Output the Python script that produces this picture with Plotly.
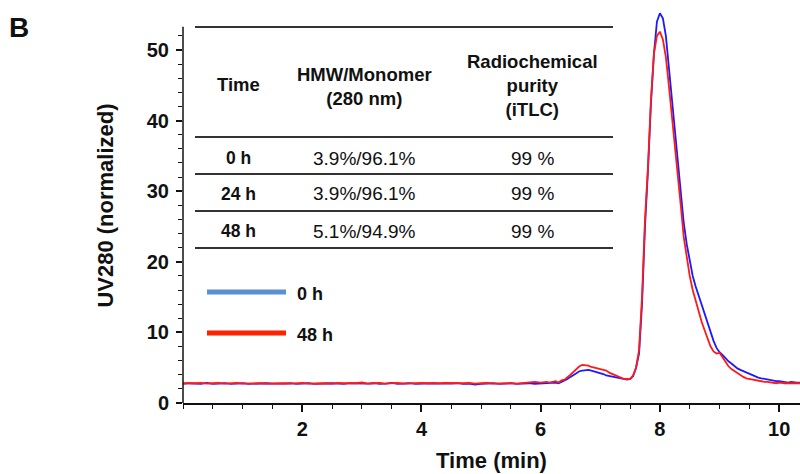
import plotly.graph_objects as go

# ---------------- data ----------------
time_baseline = [0.0, 0.1, 0.2, 0.3, 0.4, 0.5, 0.6, 0.7, 0.8, 0.9,
                 1.0, 1.1, 1.2, 1.3, 1.4, 1.5, 1.6, 1.7, 1.8, 1.9,
                 2.0, 2.1, 2.2, 2.3, 2.4, 2.5, 2.6, 2.7, 2.8, 2.9,
                 3.0, 3.1, 3.2, 3.3, 3.4, 3.5, 3.6, 3.7, 3.8, 3.9,
                 4.0, 4.1, 4.2, 4.3, 4.4, 4.5, 4.6, 4.7, 4.8, 4.9,
                 5.0, 5.1, 5.2, 5.3, 5.4, 5.5, 5.6, 5.7, 5.8, 5.9,
                 6.0, 6.1]
time_peak = [6.15, 6.20, 6.25, 6.30, 6.35, 6.40, 6.45, 6.50, 6.55, 6.60,
             6.65, 6.70, 6.75, 6.80, 6.85, 6.90, 6.95, 7.00, 7.05, 7.10,
             7.15, 7.20, 7.25, 7.30, 7.35, 7.40, 7.45, 7.50, 7.55, 7.60,
             7.65, 7.70, 7.75, 7.80, 7.85, 7.90, 7.95, 8.00, 8.05, 8.10,
             8.15, 8.20, 8.25, 8.30, 8.35, 8.40, 8.45, 8.50, 8.55, 8.60,
             8.65, 8.70, 8.75, 8.80, 8.85, 8.90, 8.95, 9.00, 9.05, 9.10,
             9.15, 9.20, 9.25, 9.30, 9.35, 9.40, 9.45, 9.50, 9.55, 9.60,
             9.65, 9.70, 9.75, 9.80, 9.85, 9.90, 9.95, 10.00, 10.05, 10.10,
             10.15, 10.20, 10.25, 10.30, 10.35]

uv_0h_baseline = [2.7, 2.8, 2.75, 2.7, 2.85, 2.7, 2.75, 2.8, 2.7, 2.75,
                  2.8, 2.7, 2.75, 2.7, 2.8, 2.75, 2.7, 2.75, 2.8, 2.7,
                  2.75, 2.8, 2.7, 2.75, 2.7, 2.8, 2.75, 2.7, 2.8, 2.75,
                  2.7, 2.75, 2.8, 2.7, 2.75, 2.85, 2.7, 2.75, 2.8, 2.7,
                  2.75, 2.7, 2.8, 2.75, 2.7, 2.75, 2.8, 2.7, 2.75, 2.6,
                  2.7, 2.75, 2.8, 2.7, 2.75, 2.8, 2.7, 2.75, 2.8, 2.7,
                  2.75, 2.85]
uv_0h_peak = [2.8, 2.85, 2.9, 2.8, 3.0, 3.1, 3.4, 3.7, 4.0, 4.3,
              4.5, 4.6, 4.7, 4.7, 4.6, 4.5, 4.4, 4.2, 4.1, 3.9,
              3.8, 3.7, 3.6, 3.5, 3.4, 3.3, 3.3, 3.4, 3.8, 5.0,
              7.0, 14.0, 25.0, 33.0, 42.5, 49.5, 54.0, 55.2, 54.5, 52.0,
              47.5, 43.5, 39.0, 34.0, 29.5, 25.5, 22.5, 20.0, 18.0, 16.5,
              15.2, 13.8, 12.6, 11.2, 10.0, 8.8, 7.8, 7.2, 6.8, 6.3,
              5.9, 5.6, 5.2, 4.9, 4.7, 4.5, 4.3, 4.1, 3.9, 3.7,
              3.6, 3.5, 3.4, 3.3, 3.3, 3.2, 3.1, 3.1, 3.0, 3.0,
              2.9, 3.0, 2.9, 2.9, 2.9]

uv_48h_baseline = [2.8, 2.75, 2.8, 2.85, 2.75, 2.8, 2.85, 2.75, 2.8, 2.85,
                   2.75, 2.8, 2.85, 2.8, 2.75, 2.8, 2.85, 2.8, 2.75, 2.8,
                   2.85, 2.75, 2.8, 2.85, 2.8, 2.75, 2.85, 2.8, 2.75, 2.8,
                   2.9, 2.75, 2.8, 2.85, 2.75, 2.8, 2.85, 2.75, 2.8, 2.75,
                   2.85, 2.8, 2.75, 2.8, 2.85, 2.8, 2.75, 2.8, 2.85, 2.75,
                   2.8, 2.85, 2.75, 2.8, 2.85, 2.8, 2.75, 2.8, 2.85, 3.0,
                   2.9, 3.0]
uv_48h_peak = [2.9, 3.0, 3.1, 2.9, 3.2, 3.3, 3.6, 4.0, 4.4, 4.8,
               5.2, 5.4, 5.4, 5.3, 5.1, 5.0, 4.9, 4.8, 4.8, 4.6,
               4.3, 4.1, 3.9, 3.8, 3.6, 3.4, 3.4, 3.4, 3.9, 5.0,
               7.5, 15.0, 26.0, 33.5, 43.0, 49.5, 52.0, 52.6, 51.5, 49.0,
               45.0, 41.0, 36.5, 32.0, 28.0, 23.5, 20.5, 18.0, 16.0, 14.5,
               12.8, 11.5, 10.3, 9.2, 8.0, 7.3, 7.0, 7.1, 6.4, 5.7,
               5.2, 4.8, 4.5, 4.3, 4.0, 3.7, 3.5, 3.4, 3.3, 3.2,
               3.1, 3.1, 3.0, 3.0, 2.9, 2.9, 2.8, 2.9, 2.8, 2.8,
               2.8, 2.8, 2.9, 2.8, 2.8]

x_ticks = [2, 4, 6, 8, 10]
y_ticks = [0, 10, 20, 30, 40, 50]
y_minor_ticks = [2, 4, 6, 8, 12, 14, 16, 18, 22, 24, 26, 28, 32, 34, 36, 38,
                 42, 44, 46, 48, 52]
y_axis_top = 53.3

table_header = ["Time", "HMW/Monomer<br>(280 nm)", "Radiochemical<br>purity<br>(iTLC)"]
table_times = ["0 h", "24 h", "48 h"]
table_hmw = ["3.9%/96.1%", "3.9%/96.1%", "5.1%/94.9%"]
table_rcp = ["99 %", "99 %", "99 %"]
legend_labels = ["0 h", "48 h"]

# ---------------- figure ----------------
W, H = 800, 474
L, R, T, B = 183, 0, 8, 71
pw, ph = W - L - R, H - T - B
Y_TOP = 55.95  # plot area extends above the drawn axis line so the peak is not clipped


def px(x):
    return (x - L) / pw


def py(y):
    return (H - B - y) / ph


FONT = "Liberation Sans, Arial, sans-serif"
INK = "#111111"

fig = go.Figure()
fig.add_trace(go.Scatter(x=time_baseline + time_peak, y=uv_0h_baseline + uv_0h_peak,
                         mode="lines", line=dict(color="#1a1aff", width=1.8),
                         name="0 h", showlegend=False))
fig.add_trace(go.Scatter(x=time_baseline + time_peak, y=uv_48h_baseline + uv_48h_peak,
                         mode="lines", line=dict(color="#ff1a1a", width=1.8),
                         name="48 h", showlegend=False))

shapes = []
annotations = []

# y axis line (stops at y_axis_top like the reference)
shapes.append(dict(type="line", xref="paper", yref="paper", x0=0, x1=0,
                   y0=0, y1=y_axis_top / Y_TOP, line=dict(color=INK, width=1.5)))

# table rules
for yy in [27, 137, 174, 211, 248]:
    shapes.append(dict(type="line", xref="paper", yref="paper",
                       x0=px(195), x1=px(613), y0=py(yy), y1=py(yy),
                       line=dict(color="#333333", width=2)))

col_x = [238, 364, 532]
annotations.append(dict(text="<b>" + table_header[0] + "</b>", x=px(col_x[0]), y=py(84), fs=18.5))
annotations.append(dict(text="<b>" + table_header[1] + "</b>", x=px(col_x[1]), y=py(86), fs=18.5))
annotations.append(dict(text="<b>" + table_header[2] + "</b>", x=px(col_x[2]), y=py(85), fs=18.5))
row_y = [158, 194, 231]
for i in range(3):
    annotations.append(dict(text="<b>" + table_times[i] + "</b>", x=px(col_x[0]), y=py(row_y[i]), fs=17.5))
    annotations.append(dict(text=table_hmw[i], x=px(col_x[1]), y=py(row_y[i]), fs=19))
    annotations.append(dict(text=table_rcp[i], x=px(col_x[2]), y=py(row_y[i]), fs=19))
for a in annotations:
    fs = a.pop("fs")
    a.update(xref="paper", yref="paper", showarrow=False, xanchor="center", yanchor="middle",
             font=dict(family=FONT, size=fs, color=INK))

# legend
leg_cols = ["#5b8fd6", "#ff2200"]
leg_y = [292, 333]
for i in range(2):
    shapes.append(dict(type="line", xref="paper", yref="paper",
                       x0=px(207), x1=px(286), y0=py(leg_y[i]), y1=py(leg_y[i]),
                       line=dict(color=leg_cols[i], width=5)))
    annotations.append(dict(text="<b>" + legend_labels[i] + "</b>", xref="paper", yref="paper",
                            x=px(295), y=py(leg_y[i] + 2), xanchor="left", yanchor="middle",
                            showarrow=False, font=dict(family=FONT, size=18, color=INK)))

# panel letter
annotations.append(dict(text="<b>B</b>", xref="paper", yref="paper", x=px(7), y=py(27),
                        xanchor="left", yanchor="middle", showarrow=False,
                        font=dict(family=FONT, size=28, color=INK)))

fig.update_layout(
    width=W, height=H,
    margin=dict(l=L, r=R, t=T, b=B, pad=0),
    paper_bgcolor="white", plot_bgcolor="white",
    font=dict(family=FONT, color=INK),
    shapes=shapes, annotations=annotations,
    showlegend=False,
)
fig.update_xaxes(
    range=[0, 10.35], tickmode="array", tickvals=x_ticks,
    ticktext=["<b>%d</b>" % v for v in x_ticks], automargin=False,
    ticks="outside", ticklen=7, tickwidth=1.5, tickcolor=INK,
    showline=True, linecolor=INK, linewidth=1.5, showgrid=False, zeroline=False,
    tickfont=dict(family=FONT, size=20, color=INK),
    minor=dict(tick0=0, dtick=0.5, ticks="outside", ticklen=4, tickwidth=1.2, tickcolor=INK),
    title=dict(text="<b>Time (min)</b>", font=dict(family=FONT, size=22, color=INK), standoff=14),
)
fig.update_yaxes(
    range=[0, Y_TOP], tickmode="array", tickvals=y_ticks,
    ticktext=["<b>%d</b>" % v for v in y_ticks], automargin=False,
    ticks="outside", ticklen=6, tickwidth=1.5, tickcolor=INK, ticklabelstandoff=3,
    showline=False, showgrid=False, zeroline=False,
    tickfont=dict(family=FONT, size=20, color=INK),
    minor=dict(tickmode="array", tickvals=y_minor_ticks, ticks="outside", ticklen=4,
               tickwidth=1.2, tickcolor=INK),
    title=dict(text="<b>UV280 (normalized)</b>", font=dict(family=FONT, size=22, color=INK), standoff=27),
)

fig.write_html("out.html", config={"displayModeBar": False},
               post_script="document.body.style.margin='0';document.body.style.padding='0';")
